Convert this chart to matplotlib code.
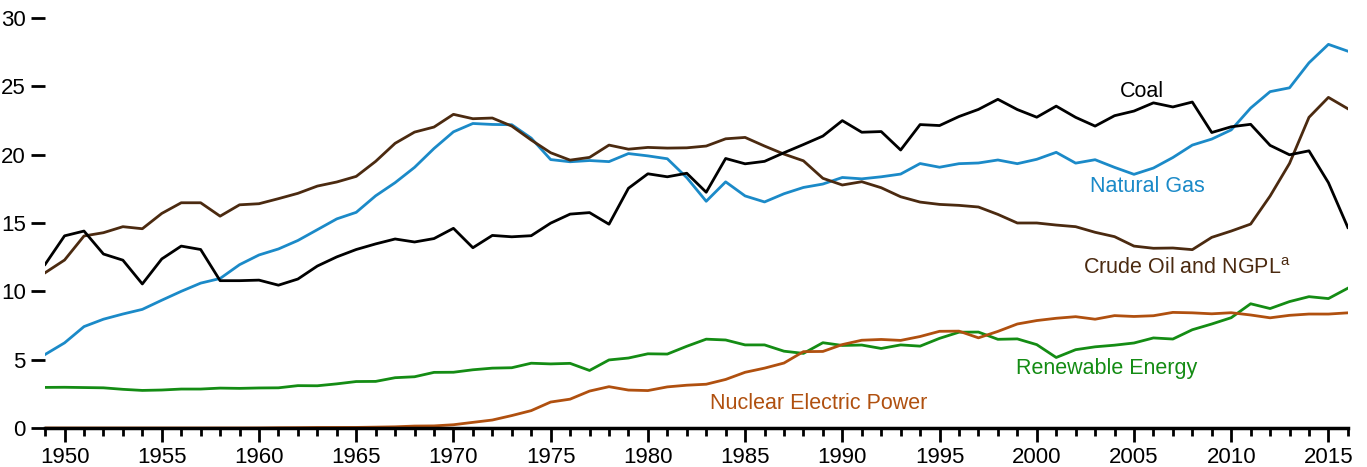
import matplotlib.pyplot as plt
import numpy as np

plt.rcParams['font.family'] = ['Liberation Sans', 'DejaVu Sans']

years = list(range(1949, 2017))

coal = [11.97, 14.06, 14.41, 12.73, 12.28, 10.54, 12.37, 13.31, 13.06, 10.78,
        10.78, 10.82, 10.45, 10.90, 11.85, 12.52, 13.06, 13.47, 13.83, 13.61,
        13.86, 14.61, 13.19, 14.09, 13.99, 14.07, 14.99, 15.65, 15.76, 14.91,
        17.54, 18.60, 18.38, 18.64, 17.25, 19.72, 19.33, 19.51, 20.14, 20.74,
        21.36, 22.49, 21.64, 21.69, 20.34, 22.20, 22.13, 22.79, 23.31, 24.05,
        23.30, 22.74, 23.55, 22.73, 22.09, 22.85, 23.19, 23.79, 23.49, 23.85,
        21.62, 22.04, 22.22, 20.68, 19.99, 20.28, 17.95, 14.67]

natural_gas = [5.38, 6.23, 7.42, 7.96, 8.34, 8.68, 9.35, 10.00, 10.60, 10.94,
               11.95, 12.66, 13.10, 13.72, 14.51, 15.30, 15.78, 16.99, 17.95, 19.07,
               20.45, 21.67, 22.28, 22.21, 22.19, 21.21, 19.64, 19.48, 19.57, 19.49,
               20.08, 19.91, 19.70, 18.32, 16.59, 18.01, 16.98, 16.54, 17.14, 17.60,
               17.85, 18.33, 18.23, 18.38, 18.58, 19.35, 19.08, 19.34, 19.39, 19.61,
               19.34, 19.66, 20.17, 19.38, 19.63, 19.07, 18.56, 19.02, 19.79, 20.70,
               21.14, 21.81, 23.41, 24.61, 24.89, 26.72, 28.07, 27.57]

crude_oil_ngpl = [11.36, 12.29, 14.05, 14.29, 14.73, 14.58, 15.70, 16.48, 16.48, 15.50,
                  16.33, 16.41, 16.78, 17.17, 17.70, 18.00, 18.41, 19.51, 20.83, 21.65,
                  22.02, 22.95, 22.63, 22.68, 22.09, 21.07, 20.14, 19.60, 19.80, 20.70,
                  20.40, 20.53, 20.48, 20.50, 20.63, 21.16, 21.26, 20.63, 20.04, 19.55,
                  18.27, 17.78, 18.02, 17.58, 16.92, 16.53, 16.36, 16.29, 16.17, 15.63,
                  15.00, 15.00, 14.85, 14.73, 14.32, 14.00, 13.31, 13.15, 13.17, 13.05,
                  13.95, 14.41, 14.92, 16.97, 19.36, 22.73, 24.19, 23.36]

nuclear = [0.0, 0.0, 0.0, 0.0, 0.0, 0.0, 0.0, 0.0, 0.0, 0.002,
           0.002, 0.006, 0.020, 0.026, 0.038, 0.040, 0.043, 0.064, 0.088, 0.142,
           0.154, 0.239, 0.413, 0.584, 0.910, 1.272, 1.900, 2.111, 2.702, 3.024,
           2.776, 2.739, 3.008, 3.131, 3.203, 3.553, 4.076, 4.380, 4.754, 5.587,
           5.602, 6.104, 6.422, 6.479, 6.410, 6.694, 7.075, 7.087, 6.597, 7.068,
           7.610, 7.862, 8.029, 8.145, 7.960, 8.223, 8.161, 8.215, 8.459, 8.427,
           8.356, 8.434, 8.269, 8.062, 8.244, 8.338, 8.337, 8.427]

renewable = [2.97, 2.98, 2.96, 2.94, 2.83, 2.75, 2.78, 2.85, 2.85, 2.92,
             2.90, 2.93, 2.94, 3.10, 3.09, 3.23, 3.40, 3.41, 3.68, 3.75,
             4.07, 4.08, 4.26, 4.38, 4.41, 4.74, 4.69, 4.73, 4.21, 4.98,
             5.12, 5.43, 5.41, 5.98, 6.50, 6.44, 6.08, 6.08, 5.62, 5.46,
             6.24, 6.04, 6.07, 5.82, 6.08, 5.99, 6.56, 7.01, 7.02, 6.49,
             6.52, 6.10, 5.16, 5.73, 5.94, 6.06, 6.22, 6.59, 6.51, 7.19,
             7.61, 8.07, 9.09, 8.74, 9.25, 9.61, 9.47, 10.23]

c_coal = 'black'
c_gas = '#1b8ac8'
c_oil = '#4b2a10'
c_nuc = '#b0500f'
c_ren = '#148c14'

fig = plt.figure(figsize=(13.67, 4.67), dpi=100)
ax = fig.add_axes([0.033, 0.0835, 0.953, 0.878])

lw = 2.0
ax.plot(years, renewable, color=c_ren, lw=lw)
ax.plot(years, nuclear, color=c_nuc, lw=lw)
ax.plot(years, natural_gas, color=c_gas, lw=lw)
ax.plot(years, crude_oil_ngpl, color=c_oil, lw=lw)
ax.plot(years, coal, color=c_coal, lw=lw)

ax.set_xlim(1949, 2016)
ax.set_ylim(0, 30)

for s in ['top', 'right', 'left']:
    ax.spines[s].set_visible(False)
ax.spines['bottom'].set_linewidth(2.5)

ax.set_yticks([0, 5, 10, 15, 20, 25, 30])
ax.tick_params(axis='y', length=10, width=2, pad=4, labelsize=16)
ax.set_xticks(range(1950, 2016, 5))
ax.set_xticks(years, minor=True)
ax.tick_params(axis='x', which='major', length=10, width=2, pad=4, labelsize=16)
ax.tick_params(axis='x', which='minor', length=6, width=2)

fs = 15.5
ax.text(2005.4, 24.6, 'Coal', color=c_coal, fontsize=fs, ha='center', va='center')
ax.text(2005.7, 17.7, 'Natural Gas', color=c_gas, fontsize=fs, ha='center', va='center')
ax.text(2002.4, 11.7, 'Crude Oil and NGPL$^{\\mathregular{a}}$', color=c_oil, fontsize=fs,
        ha='left', va='center')
ax.text(2003.6, 4.32, 'Renewable Energy', color=c_ren, fontsize=fs, ha='center', va='center')
ax.text(1988.8, 1.76, 'Nuclear Electric Power', color=c_nuc, fontsize=fs, ha='center', va='center')

fig.savefig('out.png', dpi=100)
